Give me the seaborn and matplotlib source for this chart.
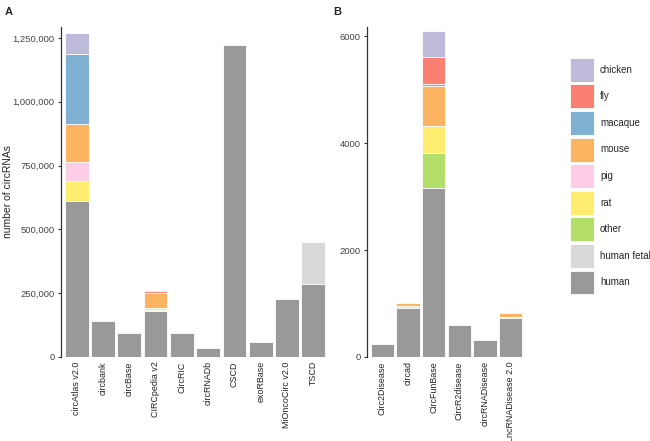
import pandas as pd
import matplotlib.pyplot as plt
import seaborn as sns
from matplotlib.patches import Patch
from matplotlib.ticker import FuncFormatter

# Panel A: general circRNA databases
dbs_a = ['circAtlas v2.0', 'circbank', 'circBase', 'CIRCpedia v2', 'CircRIC',
         'circRNADb', 'CSCD', 'exoRBase', 'MiOncoCirc v2.0', 'TSCD']
human_a = [611000, 142000, 93000, 180000, 94000, 34000, 1224000, 59000, 228000, 285000]
human_fetal_a = [0, 0, 0, 0, 0, 0, 0, 0, 0, 164000]
other_a = [0, 0, 0, 4000, 0, 0, 0, 0, 0, 0]
rat_a = [77000, 0, 2500, 9000, 0, 0, 0, 0, 0, 0]
pig_a = [75000, 0, 0, 0, 0, 0, 0, 0, 0, 0]
mouse_a = [151000, 0, 2000, 56000, 0, 0, 0, 0, 0, 0]
macaque_a = [273000, 0, 0, 0, 0, 0, 0, 0, 0, 0]
fly_a = [0, 0, 0, 9000, 0, 0, 0, 0, 0, 0]
chicken_a = [83000, 0, 0, 0, 0, 0, 0, 0, 0, 0]

# Panel B: disease databases
dbs_b = ['Circ2Disease', 'circad', 'CircFunBase', 'CircR2disease',
         'circRNADisease', 'LncRNADisease 2.0']
human_b = [243, 918, 3165, 594, 318, 725]
human_fetal_b = [0, 0, 0, 0, 0, 0]
other_b = [0, 0, 655, 0, 0, 0]
rat_b = [0, 28, 500, 0, 0, 15]
pig_b = [0, 0, 0, 0, 0, 0]
mouse_b = [0, 59, 755, 0, 0, 85]
macaque_b = [0, 0, 30, 0, 0, 0]
fly_b = [0, 0, 500, 0, 0, 0]
chicken_b = [0, 0, 490, 0, 0, 0]

# bottom -> top
stack_order = ['human', 'human fetal', 'other', 'rat', 'pig', 'mouse', 'macaque', 'fly', 'chicken']
colors = {'chicken': '#BEBADA', 'fly': '#FB8072', 'macaque': '#80B1D3', 'mouse': '#FDB462',
          'pig': '#FCCDE5', 'rat': '#FFED6F', 'other': '#B3DE69',
          'human fetal': '#D9D9D9', 'human': '#999999'}


def long_table(dbs, series):
    wide = pd.DataFrame(series, index=dbs)[stack_order]
    cum = wide.cumsum(axis=1)
    out = cum.reset_index().melt(id_vars='index', var_name='species', value_name='top')
    return out.rename(columns={'index': 'db'})


df_a = long_table(dbs_a, {'human': human_a, 'human fetal': human_fetal_a, 'other': other_a,
                          'rat': rat_a, 'pig': pig_a, 'mouse': mouse_a, 'macaque': macaque_a,
                          'fly': fly_a, 'chicken': chicken_a})
df_b = long_table(dbs_b, {'human': human_b, 'human fetal': human_fetal_b, 'other': other_b,
                          'rat': rat_b, 'pig': pig_b, 'mouse': mouse_b, 'macaque': macaque_b,
                          'fly': fly_b, 'chicken': chicken_b})

sns.set_style('white')
plt.rcParams['font.family'] = ['Liberation Sans', 'DejaVu Sans']

fig = plt.figure(figsize=(6.5, 4.41), dpi=100)
ax_a = fig.add_axes([61 / 650, 1 - 357 / 441, 268 / 650, 330 / 441])
ax_b = fig.add_axes([367 / 650, 1 - 357 / 441, 159 / 650, 330 / 441])


def draw(ax, df, dbs, ymax):
    # layered bars: tallest cumulative first, human last (on top)
    sns.barplot(data=df, x='db', y='top', hue='species', order=dbs,
                hue_order=stack_order[::-1], palette=colors, dodge=False,
                saturation=1, width=0.9, edgecolor='white', linewidth=0.6,
                legend=False, ax=ax)
    ax.set_xlim(-0.6, len(dbs) - 0.4)
    ax.set_ylim(0, ymax)
    ax.set_xlabel('')
    ax.set_ylabel('')
    for s in ['top', 'right', 'bottom']:
        ax.spines[s].set_visible(False)
    ax.spines['left'].set_color('#333333')
    ax.spines['left'].set_linewidth(0.9)
    ax.tick_params(axis='x', length=0, labelsize=6.4, labelrotation=90, pad=3, colors='#222222')
    ax.tick_params(axis='y', length=2.5, width=0.8, labelsize=6.8, pad=2, colors='#333333',
                   left=True)
    for lab in ax.get_yticklabels():
        lab.set_color('#444444')


draw(ax_a, df_a, dbs_a, 1.293e6)
ax_a.set_yticks([0, 250000, 500000, 750000, 1000000, 1250000])
ax_a.yaxis.set_major_formatter(FuncFormatter(lambda v, p: f'{int(v):,}'))
ax_a.set_ylabel('number of circRNAs', fontsize=7.5)
ax_a.yaxis.set_label_coords(-0.18, 0.5)

draw(ax_b, df_b, dbs_b, 6174)
ax_b.set_yticks([0, 2000, 4000, 6000])

fig.text(5 / 650, 1 - 12 / 441, 'A', fontsize=8, fontweight='bold', va='center')
fig.text(333 / 650, 1 - 12 / 441, 'B', fontsize=8, fontweight='bold', va='center')

handles = [Patch(facecolor=colors[s], edgecolor='white', linewidth=0.6) for s in stack_order[::-1]]
fig.legend(handles, stack_order[::-1], loc='upper left', bbox_to_anchor=(566 / 650, 1 - 54 / 441),
           frameon=False, fontsize=7, handlelength=2.5, handleheight=3.4,
           labelspacing=0.28, handletextpad=0.6, borderaxespad=0)

fig.savefig('out.png', dpi=100)
